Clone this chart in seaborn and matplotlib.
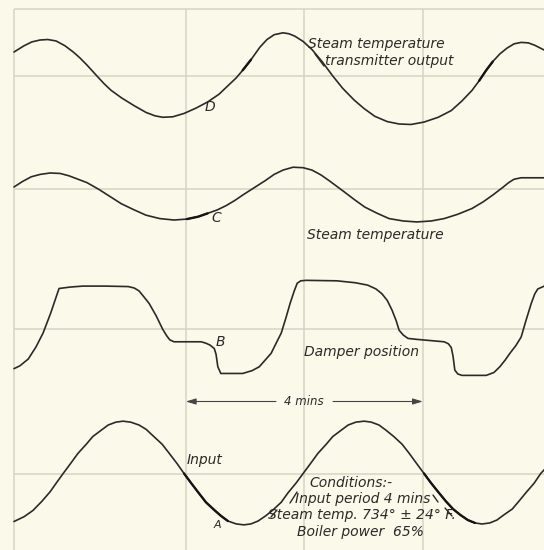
import matplotlib
matplotlib.use("Agg")
import matplotlib.pyplot as plt
import pandas as pd
import seaborn as sns

# ---- recorded traces: time in minutes, deflection in chart units (up = +) ----
# D: steam temperature transmitter output
d_time = [0.00, 0.17, 0.30, 0.44, 0.57, 0.71, 0.86, 1.00, 1.11, 1.23,
          1.40, 1.52, 1.64, 1.82, 2.03, 2.23, 2.38, 2.51, 2.68, 2.87,
          3.07, 3.27, 3.46, 3.63, 3.75, 3.86, 4.00, 4.15, 4.27, 4.39,
          4.54, 4.64, 4.74, 4.88, 5.03, 5.20, 5.38, 5.55, 5.74, 5.91,
          6.09, 6.30, 6.50, 6.70, 6.92, 7.16, 7.38, 7.56, 7.73, 7.85,
          7.97, 8.08, 8.20, 8.32, 8.44, 8.56, 8.68, 8.79, 8.95]
d_value = [25, 31.5, 35.5, 37.5, 38, 36.5, 31.5, 25, 19, 11.5,
           0, -8, -15, -23, -31, -38, -41.5, -43, -42.5, -39,
           -33.5, -27, -19, -9, -2, 6, 17, 30, 38, 43,
           45, 44, 41.5, 36, 27.5, 15, 0, -13, -25, -34,
           -42, -47.5, -50, -50.5, -48, -43, -36, -26, -15, -5,
           6, 15, 23, 29, 33.5, 35, 34.5, 32, 27]

# C: steam temperature
c_time = [0.00, 0.14, 0.29, 0.44, 0.61, 0.78, 0.93, 1.08, 1.23, 1.43,
          1.62, 1.81, 2.03, 2.23, 2.46, 2.70, 2.92, 3.11, 3.27, 3.43,
          3.58, 3.73, 3.86, 4.10, 4.24, 4.39, 4.54, 4.71, 4.88, 5.03,
          5.18, 5.33, 5.57, 5.74, 5.92, 6.13, 6.33, 6.57, 6.80, 7.04,
          7.26, 7.49, 7.73, 7.92, 8.08, 8.25, 8.35, 8.44, 8.56, 8.68,
          8.81, 8.95]
c_value = [2.4, 8, 13, 15.5, 17, 16.5, 14, 10.5, 7, 0,
           -7.5, -15, -21.5, -27, -30.5, -32, -31, -28.5, -25, -21.5,
           -17, -11.5, -6, 3.5, 9, 15.5, 20, 23, 22.5, 20,
           15, 8.5, -2.5, -10.5, -18.5, -25, -30.5, -33, -34, -33,
           -30.5, -26, -20, -13, -6, 2, 7, 10.5, 12, 12,
           12, 12]

# B: damper position
b_time = [0.00, 0.10, 0.24, 0.37, 0.49, 0.62, 0.76, 0.95, 1.16, 1.54,
          1.93, 2.03, 2.11, 2.19, 2.28, 2.40, 2.51, 2.58, 2.63, 2.70,
          3.16, 3.24, 3.31, 3.38, 3.41, 3.44, 3.49, 3.86, 4.02, 4.14,
          4.24, 4.34, 4.42, 4.51, 4.59, 4.66, 4.73, 4.78, 4.84, 4.93,
          5.45, 5.76, 5.97, 6.11, 6.21, 6.30, 6.38, 6.45, 6.50, 6.57,
          6.65, 6.80, 7.26, 7.33, 7.38, 7.41, 7.44, 7.49, 7.56, 7.97,
          8.10, 8.20, 8.29, 8.37, 8.47, 8.56, 8.64, 8.73, 8.79, 8.84,
          8.95]
b_value = [-41, -38, -31, -18.5, -4, 17, 42.5, 44, 45, 45,
           44.5, 43, 40, 34, 27, 14, 0, -7, -11, -13,
           -13, -14.5, -16.5, -20, -26, -39, -46, -46, -43, -39,
           -32, -25, -15, -4, 12, 27, 40, 48, 50.5, 51,
           50.5, 48.5, 46, 42, 37, 30, 20, 9, -1, -6,
           -9.5, -10.5, -13, -15, -19, -28, -42.5, -46.5, -48, -48,
           -45, -39, -32, -25, -17, -8, 9, 27, 37, 42,
           45]

# A: input
a_time = [0.00, 0.17, 0.32, 0.47, 0.61, 0.73, 0.83,
          0.95, 1.08, 1.22, 1.33, 1.47, 1.59, 1.72, 1.84, 1.97, 2.11, 2.23,
          2.36, 2.50, 2.62, 2.75, 2.87,
          2.99, 3.12, 3.24, 3.38, 3.49, 3.61, 3.75, 3.88, 4.00, 4.12, 4.25,
          4.37, 4.51, 4.62, 4.76, 4.88,
          5.00, 5.13, 5.27, 5.38, 5.52, 5.64, 5.77, 5.91, 6.03, 6.16, 6.28,
          6.41, 6.55, 6.67, 6.80, 6.92,
          7.04, 7.17, 7.29, 7.41, 7.53, 7.66, 7.78, 7.90, 8.03, 8.15, 8.27,
          8.41, 8.52, 8.64, 8.78, 8.89, 8.95]
a_value = [-50, -45, -38.5, -29, -19, -8.5, 0,
           10, 21, 30.5, 38.5, 45, 50.5, 53.5, 54.5, 53.5, 50.5, 46,
           38.5, 30.5, 21, 10.5, 0,
           -10, -20.5, -30, -38, -44, -49.5, -52.5, -53.5, -52.5, -49.5, -44,
           -38, -30, -20.5, -10, 0,
           10, 21, 30.5, 38.5, 45, 50.5, 53.5, 54.5, 53.5, 50.5, 45,
           38.5, 30.5, 21, 10, 0,
           -10, -20, -29, -37, -43, -48.5, -51.5, -52.6, -51.5, -48.5, -43,
           -37, -29, -20, -10, 0, 4]

grid_minutes = [2.9, 4.9, 6.9]          # input zero crossings, half a period apart

# ---- layout (pixels on a 544 x 550 sheet) ----
W, H = 544, 550
LEFT = 14            # left border of the record sheet
TOP = 9              # top border
PX_PER_MIN = 59.25
GAIN = 0.96          # pixels per deflection unit
baseline = {"D": 76.0, "C": 189.3, "B": 329.3, "A": 473.5}

PAPER = "#fbf9ea"
GRID = "#d6d4c2"
INK = "#2a2a2a"


def tx(px):
    """sheet x pixel -> minutes"""
    return (px - LEFT) / PX_PER_MIN


frames = []
for name, t, v in (("D", d_time, d_value), ("C", c_time, c_value),
                   ("B", b_time, b_value), ("A", a_time, a_value)):
    df = pd.DataFrame({"time": t, "value": v})
    df["trace"] = name
    df["y"] = baseline[name] - GAIN * df["value"]
    frames.append(df)
data = pd.concat(frames, ignore_index=True)

sns.set_theme(style="white")
plt.rcParams["font.family"] = ["DejaVu Sans"]

fig = plt.figure(figsize=(W / 100, H / 100), dpi=100, facecolor=PAPER)
ax = fig.add_axes([0, 0, 1, 1])
ax.set_facecolor(PAPER)
ax.axis("off")

# chart paper grid
gkw = dict(color=GRID, lw=1.1, zorder=1, solid_capstyle="butt")
ax.plot([tx(LEFT), tx(W)], [TOP, TOP], **gkw)
ax.plot([0, 0], [TOP, H], **gkw)
for g in grid_minutes:
    ax.plot([g, g], [TOP, H], **gkw)
for name in baseline:
    ax.plot([0, tx(W)], [baseline[name], baseline[name]], **gkw)

# traces
sns.lineplot(data=data, x="time", y="y", units="trace", estimator=None,
             sort=False, color=INK, lw=1.2, ax=ax, zorder=3, legend=False)

# inked-over stretches near the labels
heavy = [("D", 3.80, 4.02), ("D", 7.85, 8.16), ("C", 2.90, 3.34),
         ("A", 2.87, 3.70), ("A", 6.92, 7.85)]
for name, t0, t1 in heavy:
    seg = data[(data["trace"] == name) & (data["time"] >= t0) & (data["time"] <= t1)]
    sns.lineplot(data=seg, x="time", y="y", estimator=None, sort=False,
                 color="#151515", lw=1.7, ax=ax, zorder=3, legend=False)

ax.set_xlim(tx(0), tx(W))
ax.set_ylim(H, 0)

tkw = dict(color=INK, style="italic", fontsize=10, zorder=4)

# D labels
ax.text(tx(308), 44, "Steam temperature", ha="left", va="center", **tkw)
ax.text(tx(325), 61, "transmitter output", ha="left", va="center", **tkw)
ax.plot([tx(315), tx(324)], [54, 66], color=INK, lw=1.0, zorder=4)
ax.text(tx(210), 107, "D", ha="center", va="center", **tkw)

# C labels
ax.text(tx(307), 235, "Steam temperature", ha="left", va="center", **tkw)
ax.text(tx(216), 218, "C", ha="center", va="center", **tkw)

# B labels
ax.text(tx(220), 342, "B", ha="center", va="center", **tkw)
ax.text(tx(304), 352, "Damper position", ha="left", va="center", **tkw)

# period marker
ax.text(tx(304), 401.5, "4 mins", ha="center", va="center",
        color=INK, style="italic", fontsize=8.5, zorder=4)
akw = dict(arrowstyle="-|>,head_length=0.5,head_width=0.15", color="#444444",
           lw=0.8, shrinkA=0, shrinkB=0)
ax.annotate("", xy=(grid_minutes[0], 401.5), xytext=(tx(276), 401.5), arrowprops=akw)
ax.annotate("", xy=(grid_minutes[2], 401.5), xytext=(tx(333), 401.5), arrowprops=akw)

# A labels
ax.text(tx(187), 460, "Input", ha="left", va="center", **tkw)
ax.text(tx(217), 525, "A", ha="center", va="center",
        color=INK, style="italic", fontsize=8, zorder=4)

conditions = ["Conditions:-", "Input period 4 mins",
              "Steam temp. 734\u00b0 \u00b1 24\u00b0 F.", "Boiler power  65%"]
for text, cx, cy in zip(conditions, [351, 363, 362, 360], [483, 499, 515, 532]):
    ax.text(tx(cx), cy, text, ha="center", va="center", **tkw)
for (x0, y0), (x1, y1) in [((290, 503), (297, 492)), ((433, 495), (438, 502)),
                           ((271, 517), (277, 510)), ((445, 508), (452, 516))]:
    ax.plot([tx(x0), tx(x1)], [y0, y1], color=INK, lw=1.0, zorder=4)

fig.savefig("out.png", dpi=100, facecolor=PAPER)
